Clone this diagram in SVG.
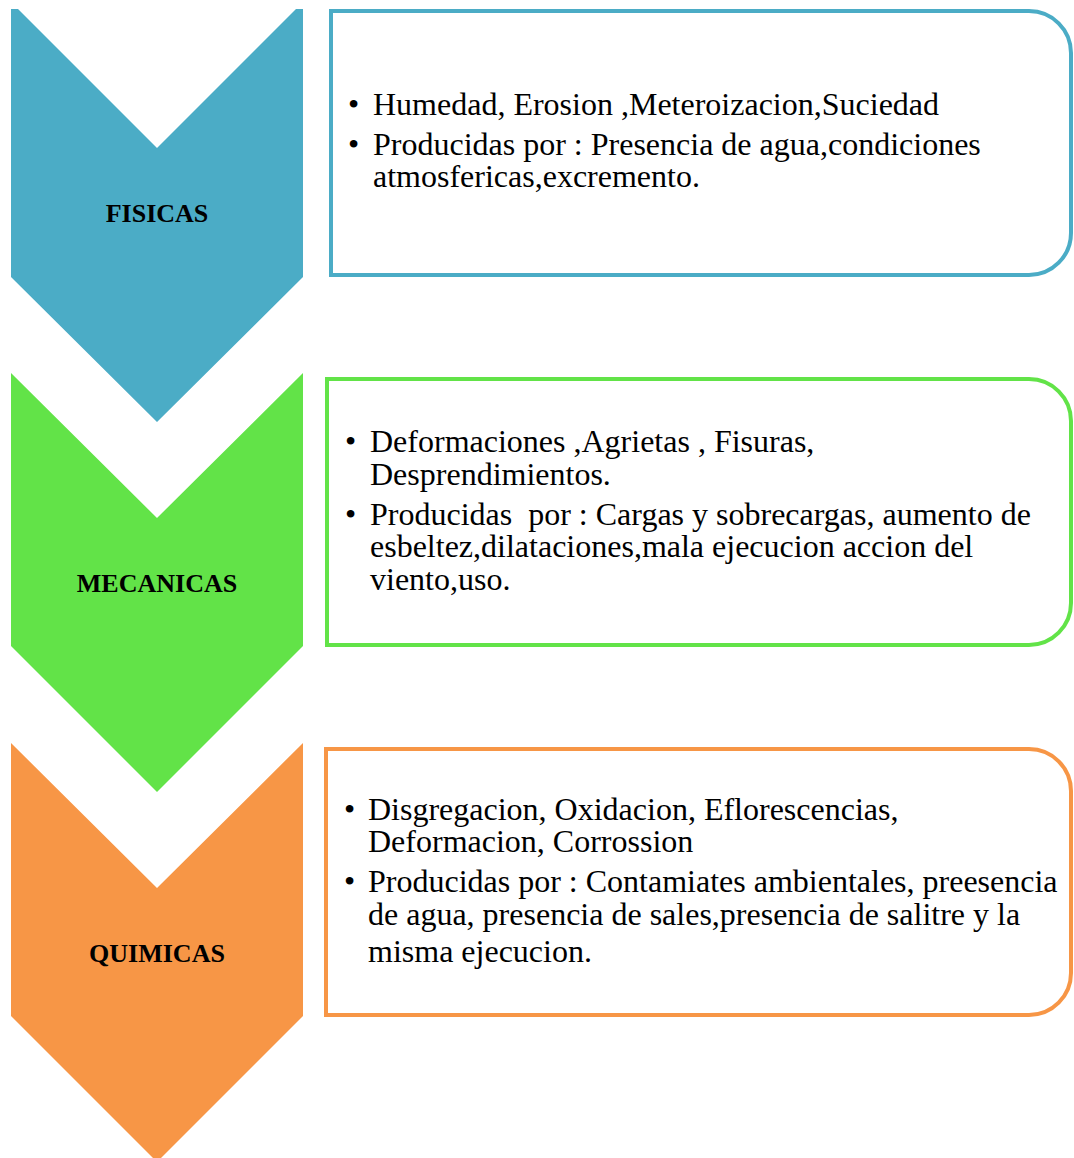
<svg xmlns="http://www.w3.org/2000/svg" width="1074" height="1158" viewBox="0 0 1074 1158">
<style>
.lbl{font-family:"Liberation Serif","Times New Roman",serif;font-weight:bold;font-size:26px;fill:#000;text-anchor:middle}
.txt{font-family:"Liberation Serif","Times New Roman",serif;font-size:32px;fill:#000}
.box{fill:#fff;stroke-width:4}
</style>
<rect width="1074" height="1158" fill="#fff"/>
<g id="fisicas">
<polygon points="11,9 18,9 157,148 296,9 303,9 303,277 157,422 11,277" fill="#4BACC6"/>
<text class="lbl" x="157" y="222">FISICAS</text>
</g>
<g id="fisicas-box">
<path class="box" stroke="#4BACC6" d="M331,11 H1029 A42,42 0 0 1 1071,53 V233 A42,42 0 0 1 1029,275 H331 Z"/>
<text class="txt" x="348" y="115">•</text>
<text class="txt" x="373" y="115">Humedad, Erosion ,Meteroizacion,Suciedad</text>
<text class="txt" x="348" y="155">•</text>
<text class="txt" x="373" y="155">Producidas por : Presencia de agua,condiciones</text>
<text class="txt" x="373" y="187">atmosfericas,excremento.</text>
</g>
<g id="mecanicas">
<polygon points="11,373 157,518 303,373 303,646 157,792 11,646" fill="#62E348"/>
<text class="lbl" x="157" y="592">MECANICAS</text>
</g>
<g id="mecanicas-box">
<path class="box" stroke="#62E348" d="M327,379 H1029 A42,42 0 0 1 1071,421 V603 A42,42 0 0 1 1029,645 H327 Z"/>
<text class="txt" x="345" y="452">•</text>
<text class="txt" x="370" y="452">Deformaciones ,Agrietas , Fisuras,</text>
<text class="txt" x="370" y="485">Desprendimientos.</text>
<text class="txt" x="345" y="525">•</text>
<text class="txt" x="370" y="525" xml:space="preserve">Producidas  por : Cargas y sobrecargas, aumento de</text>
<text class="txt" x="370" y="557">esbeltez,dilataciones,mala ejecucion accion del</text>
<text class="txt" x="370" y="590">viento,uso.</text>
</g>
<g id="quimicas">
<polygon points="11,743 157,888 303,743 303,1016 157,1162 11,1016" fill="#F79646"/>
<text class="lbl" x="157" y="962">QUIMICAS</text>
</g>
<g id="quimicas-box">
<path class="box" stroke="#F79646" d="M326,749 H1029 A42,42 0 0 1 1071,791 V973 A42,42 0 0 1 1029,1015 H326 Z"/>
<text class="txt" x="344" y="820">•</text>
<text class="txt" x="368" y="820">Disgregacion, Oxidacion, Eflorescencias,</text>
<text class="txt" x="368" y="852">Deformacion, Corrossion</text>
<text class="txt" x="344" y="892">•</text>
<text class="txt" x="368" y="892">Producidas por : Contamiates ambientales, preesencia</text>
<text class="txt" x="368" y="925">de agua, presencia de sales,presencia de salitre y la</text>
<text class="txt" x="368" y="962">misma ejecucion.</text>
</g>
</svg>
